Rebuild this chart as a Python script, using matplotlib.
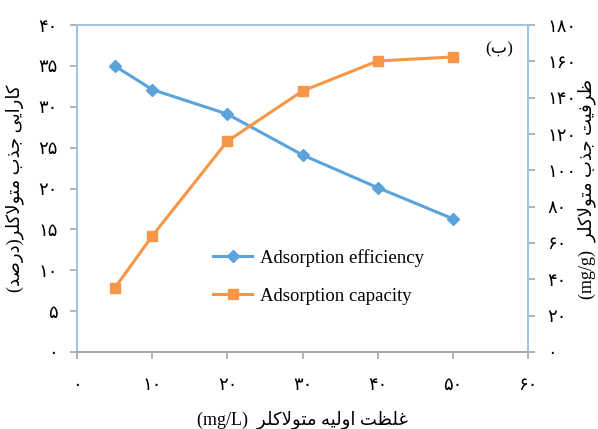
import matplotlib
matplotlib.use("Agg")
import matplotlib.pyplot as plt
from matplotlib.ticker import FuncFormatter, MultipleLocator

BLUE, ORANGE, FRAME, TICK = "#5BA3DB", "#F79646", "#9DC3E6", "#A6A6A6"
plt.rcParams["font.family"] = ["Liberation Serif", "DejaVu Sans"]

# data
conc = [5, 10, 20, 30, 40, 50]                          # mg/L
efficiency = [35.0, 32.1, 29.1, 24.1, 20.1, 16.3]        # %
capacity = [35.2, 63.9, 116.1, 143.7, 160.2, 162.4]      # mg/g

# minimal Persian shaping (matplotlib has no complex text layout)
# forms: isolated, final, initial, medial
FORMS = {
    "ا": (0xFE8D, 0xFE8E, None, None),
    "ب": (0xFE8F, 0xFE90, 0xFE91, 0xFE92),
    "ت": (0xFE95, 0xFE96, 0xFE97, 0xFE98),
    "ج": (0xFE9D, 0xFE9E, 0xFE9F, 0xFEA0),
    "د": (0xFEA9, 0xFEAA, None, None),
    "ذ": (0xFEAB, 0xFEAC, None, None),
    "ر": (0xFEAD, 0xFEAE, None, None),
    "ص": (0xFEB9, 0xFEBA, 0xFEBB, 0xFEBC),
    "ظ": (0xFEC5, 0xFEC6, 0xFEC7, 0xFEC8),
    "غ": (0xFECD, 0xFECE, 0xFECF, 0xFED0),
    "ف": (0xFED1, 0xFED2, 0xFED3, 0xFED4),
    "ل": (0xFEDD, 0xFEDE, 0xFEDF, 0xFEE0),
    "م": (0xFEE1, 0xFEE2, 0xFEE3, 0xFEE4),
    "ه": (0xFEE9, 0xFEEA, 0xFEEB, 0xFEEC),
    "و": (0xFEED, 0xFEEE, None, None),
    "ک": (0xFB8E, 0xFB8F, 0xFB90, 0xFB91),
    "ی": (0xFBFC, 0xFBFD, 0xFBFE, 0xFBFF),
}


def dual(c):
    return c in FORMS and FORMS[c][2] is not None


def fa(text):
    out, i = [], 0
    while i < len(text):
        c = text[i]
        prev = text[i - 1] if i > 0 else None
        nxt = text[i + 1] if i + 1 < len(text) else None
        if c not in FORMS:
            out.append(c)
            i += 1
            continue
        jp = dual(prev)
        if c == "ل" and nxt == "ا":
            out.append(chr(0xFEFC if jp else 0xFEFB))
            i += 2
            continue
        jn = dual(c) and nxt in FORMS
        iso, fin, ini, med = FORMS[c]
        if jp and jn:
            code = med
        elif jp:
            code = fin
        elif jn:
            code = ini
        else:
            code = iso
        out.append(chr(code))
        i += 1
    swap = {"(": ")", ")": "("}
    return "".join(swap.get(ch, ch) for ch in reversed(out))


def pdigits(v, pos=None):
    return str(int(round(v))).translate(str.maketrans("0123456789", "۰۱۲۳۴۵۶۷۸۹"))


fig = plt.figure(figsize=(5.98, 4.29), dpi=100)
ax = fig.add_axes([0.129, 0.1795, 0.754, 0.7622])
ax2 = ax.twinx()

l1, = ax.plot(conc, efficiency, color=BLUE, lw=2.2, marker="D", ms=6,
              label="Adsorption efficiency")
l2, = ax2.plot(conc, capacity, color=ORANGE, lw=2.2, marker="s", ms=7,
               label="Adsorption capacity")

ax.set_xlim(0, 60)
ax.set_ylim(0, 40)
ax2.set_ylim(0, 180)
ax.xaxis.set_major_locator(MultipleLocator(10))
ax.yaxis.set_major_locator(MultipleLocator(5))
ax2.yaxis.set_major_locator(MultipleLocator(20))
for a in (ax.xaxis, ax.yaxis, ax2.yaxis):
    a.set_major_formatter(FuncFormatter(pdigits))

for a in (ax, ax2):
    for s in a.spines.values():
        s.set_color(FRAME)
        s.set_linewidth(1.2)
    a.spines["bottom"].set_color(TICK)
    a.tick_params(direction="out", length=5, width=1.2, color=TICK,
                  labelsize=13, pad=9)
ax.tick_params(axis="x", pad=13)

ax.set_xlabel("(mg/L)  " + fa("غلظت اولیه متولاکلر"), fontsize=13, labelpad=12)
ax.set_ylabel(fa("کارایی جذب متولاکلر(درصد)"), fontsize=13, labelpad=10)
fig.text(0.981, 0.56, "(mg/g)  " + fa("ظرفیت جذب متولاکلر"), rotation=90,
         fontsize=13, ha="center", va="center")
ax.text(0.935, 0.925, fa("(ب)"), transform=ax.transAxes, fontsize=12.5,
        ha="center", va="center")

ax.legend(handles=[l1, l2], loc="center", bbox_to_anchor=(0.535, 0.23),
          frameon=False, fontsize=13.5, handlelength=2.1, handletextpad=0.4,
          labelspacing=1.1)

fig.savefig("out.png", dpi=100)
